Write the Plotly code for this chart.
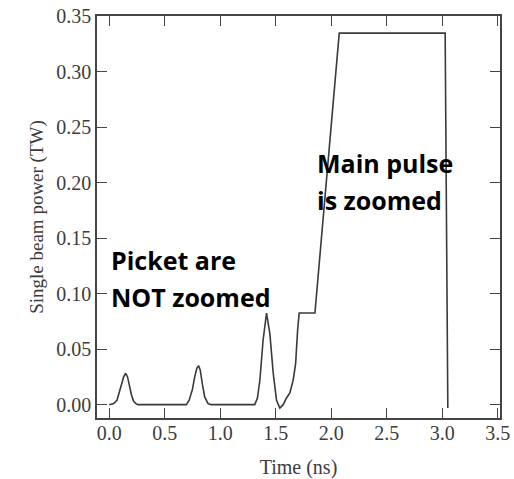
import plotly.graph_objects as go

# Time (ns) and single beam power (TW)
time_ns = [0.00, 0.04, 0.07, 0.09, 0.11, 0.13, 0.148, 0.165, 0.18, 0.20, 0.22, 0.245, 0.26,
           0.695, 0.72, 0.75, 0.77, 0.79, 0.806, 0.82, 0.84, 0.86, 0.89, 0.92,
           1.311, 1.335, 1.357, 1.386, 1.417, 1.447, 1.477, 1.507, 1.537, 1.567, 1.597,
           1.627, 1.657, 1.679, 1.697, 1.711, 1.853, 2.072, 3.026, 3.05]
power_tw = [0.000, 0.001, 0.004, 0.010, 0.018, 0.025, 0.0283, 0.025, 0.017, 0.009, 0.003, 0.0005, 0.000,
            0.000, 0.004, 0.014, 0.025, 0.033, 0.035, 0.031, 0.018, 0.007, 0.001, 0.000,
            0.000, 0.006, 0.022, 0.058, 0.0825, 0.064, 0.0286, 0.004, -0.003, 0.000, 0.006,
            0.0105, 0.022, 0.037, 0.067, 0.0825, 0.0825, 0.3346, 0.3346, -0.003]

x_ticks = [0.0, 0.5, 1.0, 1.5, 2.0, 2.5, 3.0, 3.5]
x_tick_labels = ["0.0", "0.5", "1.0", "1.5", "2.0", "2.5", "3.0", "3.5"]
y_ticks = [0.00, 0.05, 0.10, 0.15, 0.20, 0.25, 0.30, 0.35]
y_tick_labels = ["0.00", "0.05", "0.10", "0.15", "0.20", "0.25", "0.30", "0.35"]

notes = [
    ("Picket are", 0.0, 0.1306),
    ("NOT zoomed", 0.0, 0.0972),
    ("Main pulse", 1.85, 0.2175),
    ("is zoomed", 1.85, 0.1843),
]

fig = go.Figure()
fig.add_trace(go.Scatter(x=time_ns, y=power_tw, mode="lines",
                         line=dict(color="#3a3a3a", width=1.6), showlegend=False))

serif = "Liberation Serif"
axis_common = dict(showline=True, linecolor="#444", linewidth=1.5, mirror="ticks",
                   ticks="inside", ticklen=10, tickcolor="#444", tickwidth=1.3,
                   showgrid=False, zeroline=False, automargin=False,
                   tickfont=dict(family=serif, size=20, color="#3c3c3c"))

fig.update_xaxes(range=[-0.11, 3.52], tickvals=x_ticks, ticktext=x_tick_labels,
                 ticklabelstandoff=-4,
                 title=dict(text="Time (ns)", font=dict(family=serif, size=20, color="#3c3c3c"),
                            standoff=18),
                 **axis_common)
fig.update_yaxes(range=[-0.012, 0.35], tickvals=y_ticks, ticktext=y_tick_labels,
                 title=dict(text="Single beam power (TW)",
                            font=dict(family=serif, size=19, color="#3c3c3c"), standoff=8),
                 **axis_common)

for txt, xv, yv in notes:
    fig.add_annotation(x=xv, y=yv, xref="x", yref="y", text="<b>" + txt + "</b>",
                       showarrow=False, xanchor="left", yanchor="middle",
                       font=dict(family="Open Sans", size=25, color="black"))

fig.update_layout(width=514, height=479, margin=dict(l=97, r=14, t=16, b=61),
                  plot_bgcolor="white", paper_bgcolor="white")

fig.write_html("out.html")
